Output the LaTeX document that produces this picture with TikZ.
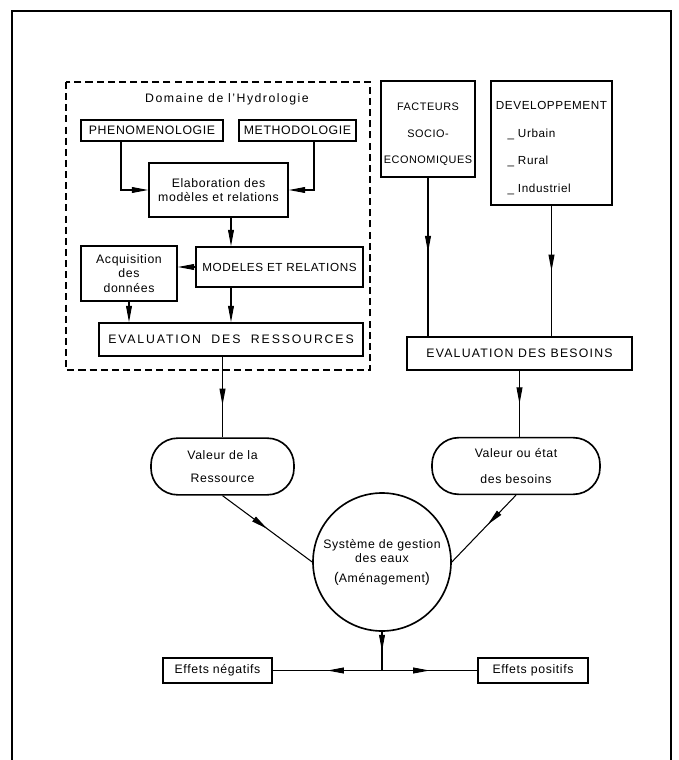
\documentclass[tikz,border=0pt]{standalone}
\usepackage{fontspec}
\setmainfont{Liberation Sans}[LetterSpace=5]
\usetikzlibrary{arrows.meta,decorations.markings}

\begin{document}
\begin{tikzpicture}[>={Triangle[length=14pt,width=5pt]},line width=0.9pt,
  font=\fontsize{10.5}{12.5}\selectfont,
  main node/.style={draw,line width=1.4pt,inner sep=2pt,align=center},
  cap node/.style={main node,rounded corners=0.8cm,minimum height=1.7cm},
  wide/.style={font=\fontsize{10.5}{12.5}\selectfont\addfontfeature{LetterSpace=#1}},
  mid arrow/.style={postaction={decorate},decoration={markings,mark=at position #1 with {\arrow{>}}}},
  mid arrow/.default=0.5]

  \useasboundingbox (0,0) rectangle (20.34,-22.8);
  \draw[line width=1pt] (0.36,-22.8) -- (0.36,-0.33) -- (20.13,-0.33) -- (20.13,-22.8);
  \draw[line width=1.3pt,dash pattern=on 6pt off 3.5pt] (1.98,-2.46) rectangle (11.1,-11.1);

  \node[wide=12] (0) at (6.81,-2.97) {Domaine de l’Hydrologie};
  \node[main node,minimum width=4.26cm,minimum height=0.63cm] (1) at (4.56,-3.915) {PHENOMENOLOGIE};
  \node[main node,minimum width=3.51cm,minimum height=0.63cm] (2) at (8.925,-3.915) {METHODOLOGIE};
  \node[main node,minimum width=4.17cm,minimum height=1.62cm] (3) at (6.555,-5.7) {Elaboration des\\modèles et relations};
  \node[main node,minimum width=2.88cm,minimum height=1.65cm] (4) at (3.87,-8.205) {Acquisition\\des\\données};
  \node[main node,minimum width=5.01cm,minimum height=1.2cm,font=\fontsize{10}{12}\selectfont] (5) at (8.385,-8.01) {MODELES ET RELATIONS};
  \node[main node,minimum width=7.92cm,minimum height=0.99cm,wide=15] (6) at (6.93,-10.185) {EVALUATION\ \ DES\ \ RESSOURCES};

  \node[main node,minimum width=2.82cm,minimum height=2.88cm,inner sep=1pt,font=\fontsize{9.3}{12}\selectfont] (7) at (12.84,-3.87)
    {\rule{0pt}{16pt}FACTEURS\\[10.5pt]SOCIO-\\[10.5pt]ECONOMIQUES};
  \node[main node,minimum width=3.63cm,minimum height=3.72cm,align=left,font=\fontsize{10}{12.5}\selectfont] (8) at (16.545,-4.29)
    {\rule{0pt}{16pt}DEVELOPPEMENT\\[11pt]\hspace{10pt}\_ Urbain\\[11pt]\hspace{10pt}\_ Rural\\[11pt]\hspace{10pt}\_ Industriel};
  \node[main node,minimum width=6.75cm,minimum height=0.99cm,wide=10] (9) at (15.585,-10.605) {EVALUATION DES BESOINS};

  \node[cap node,minimum width=4.29cm] (10) at (6.675,-13.995) {Valeur de la\\[7pt]Ressource};
  \node[cap node,minimum width=5.04cm] (11) at (15.48,-13.98) {Valeur ou état\\[10.5pt]des besoins};
  \node[main node,circle,minimum size=4.14cm] (12) at (11.46,-16.86)
    {Système de gestion\\des eaux\\[4pt]{\large(}Aménagement{\large)}};

  \node[main node,minimum width=3.27cm,minimum height=0.75cm] (13) at (6.525,-20.115) {Effets négatifs};
  \node[main node,minimum width=3.3cm,minimum height=0.75cm] (14) at (15.99,-20.115) {Effets positifs};

  \coordinate (a) at ([xshift=-0.93cm]1.south);
  \coordinate (b) at ([xshift=0.495cm]2.south);
  \coordinate (c) at ([xshift=0.375cm]3.south);
  \coordinate (j) at (12.south |- 13.east);

  \draw[->] (a) |- (3.west);
  \draw[->] (b) |- (3.east);
  \draw[->] (c) -- (c |- 5.north);
  \draw[->] (5.west) -- (5.west -| 4.east);
  \draw[->] (4.south) -- (4.south |- 6.north);
  \draw[->] (c |- 5.south) -- (c |- 6.north);

  \draw[mid arrow=0.47] (7.south) -- (7.south |- 9.north);
  \draw[mid arrow] (8.south) -- (8.south |- 9.north);

  \draw[mid arrow=0.6] (10.north |- 6.south) -- (10.north);
  \draw[mid arrow] (9.south) -- (9.south |- 11.north);
  \draw[mid arrow] (10.south) -- (12.west);
  \draw[mid arrow=0.44] (11.south) -- (12.east);
  \draw[mid arrow] (12.south) -- (j);
  \draw[mid arrow] (j) -- (13.east);
  \draw[mid arrow] (j) -- (14.west);
\end{tikzpicture}
\end{document}
